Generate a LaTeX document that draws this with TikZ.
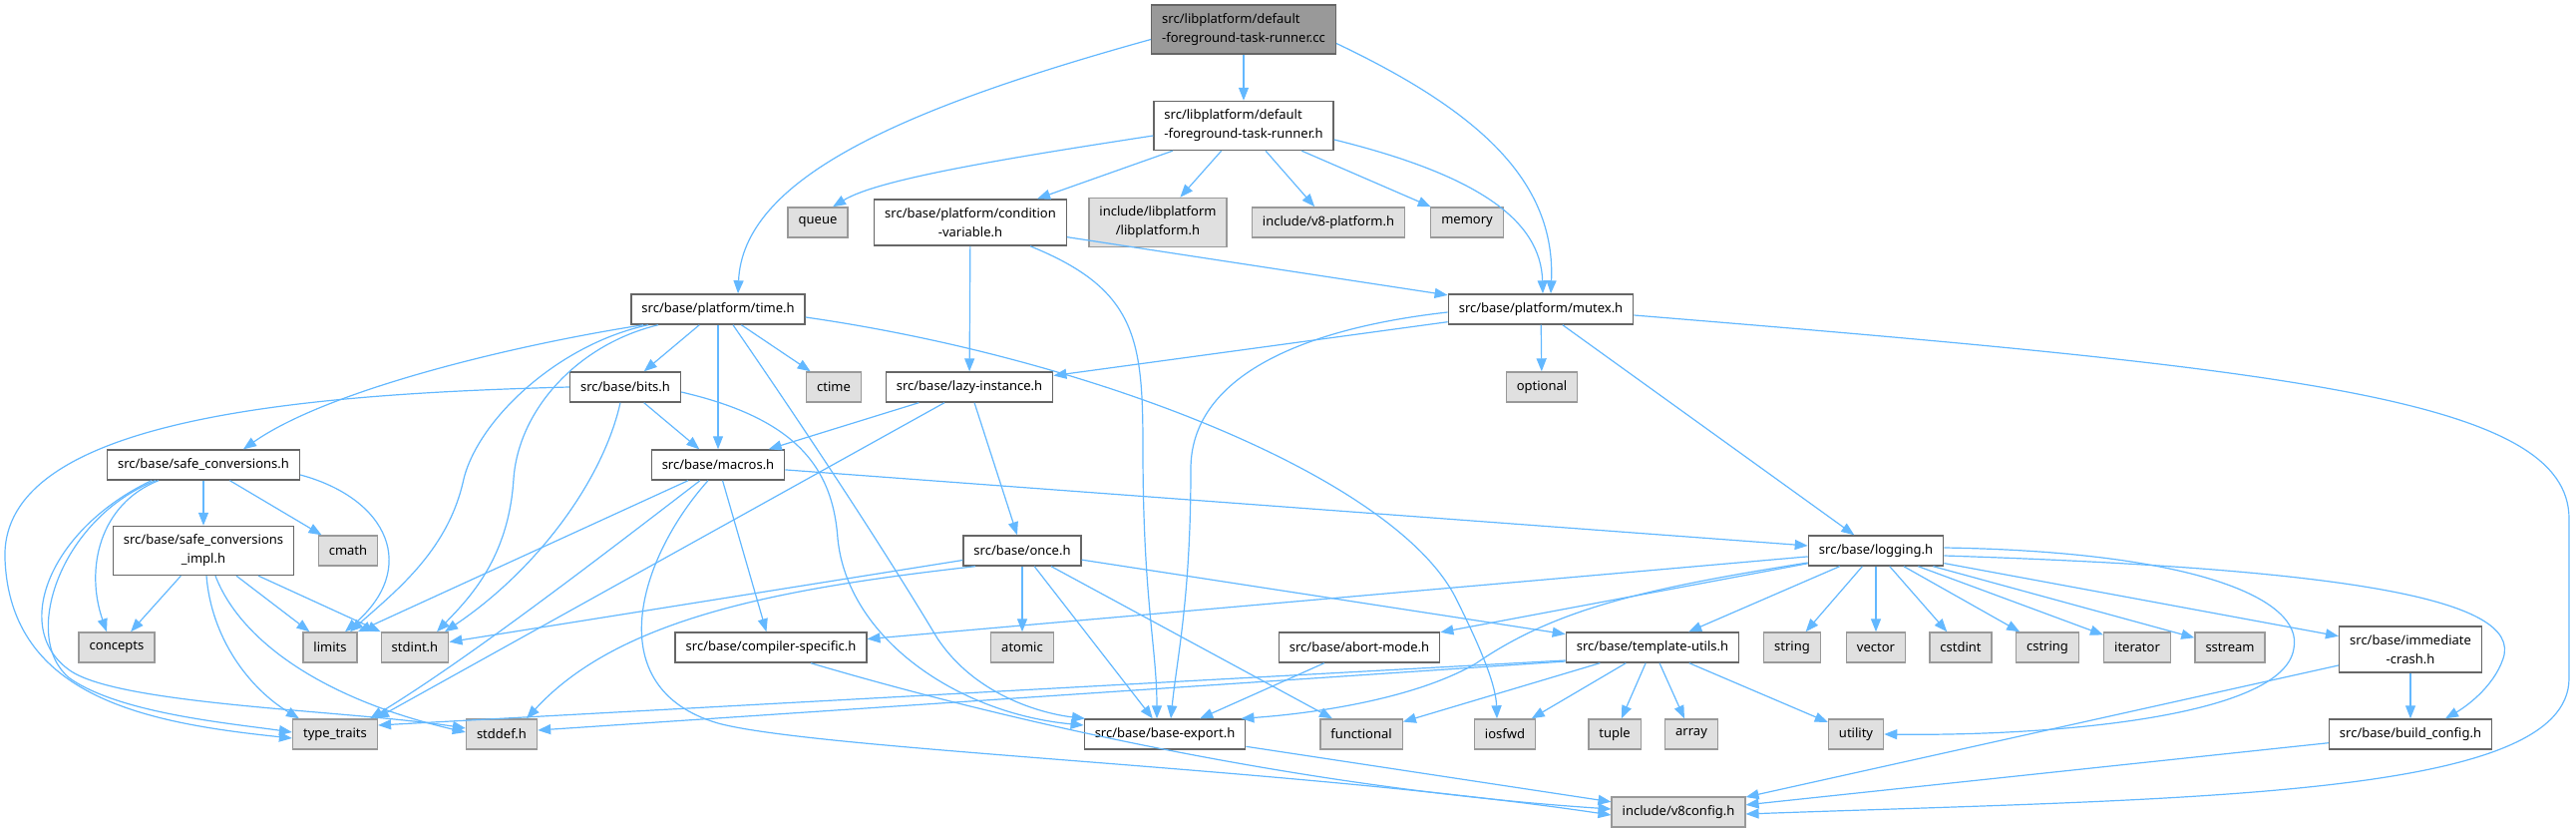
\documentclass[tikz,border=0pt]{standalone}
\usepackage{fontspec}
\setmainfont{Noto Sans}
\usetikzlibrary{arrows.meta}
\definecolor{edgeblue}{HTML}{63B8FF}
\definecolor{boxgray}{HTML}{E0E0E0}
\definecolor{rimgray}{HTML}{999999}
\definecolor{rimdark}{HTML}{666666}

\begin{document}
\begin{tikzpicture}[x=1pt, y=-1pt,
    hdr/.style={rectangle, draw=rimdark, fill=white, line width=1.4pt, inner xsep=10.5pt, inner ysep=8.5pt, minimum height=30pt, font=\fontsize{13}{19}\selectfont},
    sys/.style={hdr, draw=rimgray, fill=boxgray},
    src/.style={hdr, fill=rimgray},
    dep/.style={draw=edgeblue, line width=1.2pt, -{Triangle[length=13pt,width=10pt]}}]
    \useasboundingbox (0,0) rectangle (2583,834);

    \node [src, align=left] (root) at (1247,29.5) {src/libplatform/default\\-foreground-task-runner.cc};
    \node [hdr, align=left] (fgh) at (1247,126) {src/libplatform/default\\-foreground-task-runner.h};

    \node [sys] (queue) at (820,223) {queue};
    \node [hdr, align=center] (condvar) at (973,223) {src/base/platform/condition\\-variable.h};
    \node [sys, align=center] (libplatform) at (1161,223) {include/libplatform\\/libplatform.h};
    \node [sys] (v8platform) at (1332,223) {include/v8-platform.h};
    \node [sys] (memory) at (1471,223) {memory};

    \node [hdr] (time) at (720,310) {src/base/platform/time.h};
    \node [hdr] (mutex) at (1545,310) {src/base/platform/mutex.h};

    \node [hdr] (bits) at (627,388) {src/base/bits.h};
    \node [sys] (ctime) at (836,388) {ctime};
    \node [hdr] (lazy) at (972,388) {src/base/lazy-instance.h};
    \node [sys] (optional) at (1546,388) {optional};

    \node [hdr] (safeconv) at (204,466) {src/base/safe\_conversions.h};
    \node [hdr] (macros) at (720,466) {src/base/macros.h};

    \node [hdr, align=center] (impl) at (204,552) {src/base/safe\_conversions\\\_impl.h};
    \node [sys] (cmath) at (349,552) {cmath};
    \node [hdr] (once) at (1025,552) {src/base/once.h};
    \node [hdr] (logging) at (1881,552) {src/base/logging.h};

    \node [sys] (concepts) at (117,649) {concepts};
    \node [sys] (limits) at (331,649) {limits};
    \node [sys] (stdint) at (416,649) {stdint.h};
    \node [hdr] (compiler) at (773,649) {src/base/compiler-specific.h};
    \node [sys] (atomic) at (1025,649) {atomic};
    \node [hdr] (abort) at (1363,649) {src/base/abort-mode.h};
    \node [hdr] (template) at (1657,649) {src/base/template-utils.h};
    \node [sys] (string) at (1797,649) {string};
    \node [sys] (vector) at (1881,649) {vector};
    \node [sys] (cstdint) at (1966,649) {cstdint};
    \node [sys] (cstring) at (2053,649) {cstring};
    \node [sys] (iterator) at (2143,649) {iterator};
    \node [sys] (sstream) at (2236,649) {sstream};
    \node [hdr, align=center] (immediate) at (2417,651) {src/base/immediate\\-crash.h};

    \node [sys] (typetraits) at (336,736) {type\_traits};
    \node [sys] (stddef) at (503,736) {stddef.h};
    \node [hdr] (baseexport) at (1168,736) {src/base/base-export.h};
    \node [sys] (functional) at (1365,736) {functional};
    \node [sys] (iosfwd) at (1509,736) {iosfwd};
    \node [sys] (tuple) at (1619,736) {tuple};
    \node [sys] (array) at (1696,736) {array};
    \node [sys] (utility) at (1861,736) {utility};
    \node [hdr] (buildconfig) at (2417,736) {src/base/build\_config.h};

    \node [sys] (v8config) at (1683,814) {include/v8config.h};

    \begin{scope}[dep]
        % top file
        \draw ([yshift=-10pt]root.west) .. controls (900,110) and (745,180) .. ([xshift=20pt]time.north);
        \draw (root) -- (fgh);
        \draw ([yshift=-14pt]root.east) .. controls (1480,110) and (1560,180) .. ([xshift=10pt]mutex.north);

        % foreground-task-runner.h
        \draw ([yshift=-10pt]fgh.west) .. controls (1000,160) and (880,180) .. ([xshift=15pt]queue.north);
        \draw (fgh) -- (condvar);
        \draw (fgh) -- (libplatform);
        \draw (fgh) -- (v8platform);
        \draw (fgh) -- (memory);
        \draw ([yshift=-14pt]fgh.east) .. controls (1480,175) and (1545,220) .. ([xshift=2pt]mutex.north);

        % condition-variable.h
        \draw (condvar) -- (lazy);
        \draw (condvar) -- (mutex);
        \draw ([xshift=60pt]condvar.south) .. controls (1140,290) and (1146,340) .. (1146,450) .. controls (1146,600) and (1160,650) .. ([xshift=-8pt]baseexport.north);

        % time.h
        \draw ([xshift=-75pt]time.south) .. controls (520,345) and (330,390) .. ([xshift=40pt]safeconv.north);
        \draw ([xshift=-70pt]time.south) .. controls (560,345) and (480,420) .. (465,480) .. controls (450,550) and (400,590) .. ([xshift=20pt]limits.north);
        \draw ([xshift=-60pt]time.south) .. controls (580,345) and (520,410) .. (515,480) .. controls (510,560) and (470,600) .. ([xshift=22pt]stdint.north);
        \draw (time) -- (bits);
        \draw (time) -- (macros);
        \draw (time) -- (ctime);
        \draw ([xshift=15pt]time.south) .. controls (800,420) and (880,540) .. (940,640) .. controls (980,700) and (1050,716) .. ([xshift=-80pt]baseexport.north);
        \draw ([yshift=-8pt]time.east) .. controls (1100,360) and (1400,480) .. (1460,600) .. controls (1490,660) and (1500,690) .. ([xshift=-8pt]iosfwd.north);

        % mutex.h
        \draw (mutex) -- (lazy);
        \draw ([yshift=-3pt]mutex.west) .. controls (1300,330) and (1194,380) .. (1194,470) .. controls (1194,600) and (1180,660) .. ([xshift=6pt]baseexport.north);
        \draw (mutex) -- (optional);
        \draw (mutex) -- (logging);
        \draw ([yshift=-6pt]mutex.east) .. controls (2300,370) and (2576,400) .. (2576,520) -- (2576,680) .. controls (2576,800) and (2200,800) .. ([yshift=-2pt]v8config.east);

        % bits.h
        \draw (bits.west) .. controls (300,395) and (0,420) .. (5,560) .. controls (10,700) and (150,725) .. ([yshift=-4pt]typetraits.west);
        \draw (bits) -- (macros);
        \draw ([xshift=-5pt]bits.south) .. controls (605,480) and (540,570) .. ([xshift=30pt]stdint.north);
        \draw ([yshift=-5pt]bits.east) .. controls (800,420) and (835,470) .. (840,540) .. controls (850,640) and (960,715) .. ([yshift=9pt]baseexport.west);

        % lazy-instance.h
        \draw (lazy) -- (macros);
        \draw ([xshift=-25pt]lazy.south) -- ([xshift=-2pt]typetraits.north east);
        \draw (lazy) -- (once);

        % safe_conversions.h
        \draw (safeconv) -- (impl);
        \draw (safeconv) -- (cmath);
        \draw ([xshift=-45pt]safeconv.south) .. controls (100,505) and (85,570) .. ([xshift=-10pt]concepts.north);
        \draw ([yshift=-10pt]safeconv.east) .. controls (390,500) and (420,570) .. ([xshift=15pt]limits.north);
        \draw ([xshift=-48pt]safeconv.south) .. controls (60,520) and (20,640) .. (70,680) .. controls (120,715) and (230,725) .. ([yshift=2pt]typetraits.west);
        \draw ([xshift=-52pt]safeconv.south) .. controls (50,530) and (10,630) .. (70,672) .. controls (120,707) and (350,712) .. ([yshift=6pt]stddef.west);

        % macros.h
        \draw ([xshift=-30pt]macros.south) -- (limits.north east);
        \draw ([xshift=-18pt]macros.south) .. controls (600,560) and (470,660) .. ([xshift=-8pt]typetraits.north east);
        \draw (macros) -- (compiler);
        \draw (macros) -- (logging);
        \draw ([xshift=-10pt]macros.south) .. controls (640,560) and (600,690) .. (720,725) .. controls (820,752) and (1300,770) .. ([yshift=-3pt]v8config.west);

        % safe_conversions_impl.h
        \draw (impl) -- (concepts);
        \draw (impl) -- (limits);
        \draw (impl) -- (stdint);
        \draw ([xshift=3pt]impl.south) .. controls (212,640) and (250,690) .. ([xshift=-36pt]typetraits.north);
        \draw ([xshift=12pt]impl.south) .. controls (240,640) and (320,700) .. ([yshift=2pt]stddef.west);

        % once.h
        \draw (once) -- (stdint);
        \draw ([xshift=-47pt]once.south) .. controls (780,590) and (620,620) .. ([xshift=25pt]stddef.north);
        \draw (once) -- (atomic);
        \draw (once) -- (baseexport);
        \draw (once) -- (functional);
        \draw (once) -- (template);

        % logging.h
        \draw (logging) -- (compiler);
        \draw (logging) -- (abort);
        \draw ([yshift=-12pt]logging.west) .. controls (1650,590) and (1560,610) .. (1480,665) .. controls (1420,700) and (1320,715) .. ([xshift=-5pt]baseexport.north east);
        \draw (logging) -- (template);
        \foreach \t in {string,vector,cstdint,cstring,iterator,sstream}
            \draw (logging) -- (\t);
        \draw (logging) -- (immediate);
        \draw ([yshift=3pt]logging.east) .. controls (2200,553) and (2310,600) .. (2300,650) .. controls (2290,720) and (2050,738) .. (utility.east);
        \draw ([yshift=-5pt]logging.east) .. controls (2350,570) and (2530,600) .. (2510,660) .. controls (2500,690) and (2470,710) .. ([xshift=35pt]buildconfig.north);

        % lower headers
        \draw ([xshift=40pt]compiler.south) .. controls (1000,720) and (1300,790) .. ([yshift=3pt]v8config.west);
        \draw (abort) -- (baseexport);
        \draw ([yshift=-13pt]template.west) -- ([yshift=9pt]typetraits.east);
        \draw ([yshift=-14pt]template.west) -- ([yshift=4pt]stddef.east);
        \foreach \t in {functional,iosfwd,tuple,array,utility}
            \draw (template) -- (\t);
        \draw (immediate) -- (buildconfig);
        \draw (immediate) -- (v8config);
        \draw (buildconfig) -- (v8config);
        \draw (baseexport) -- (v8config);
    \end{scope}
\end{tikzpicture}
\end{document}
